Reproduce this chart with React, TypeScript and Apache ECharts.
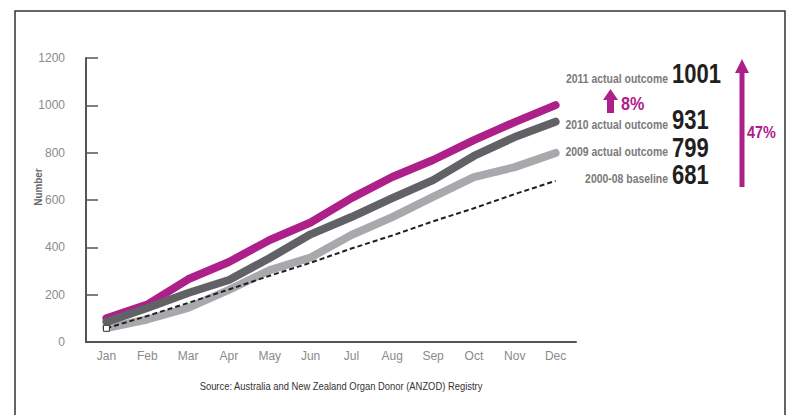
import React, { useEffect, useRef } from "react";
import * as echarts from "echarts";

const months = ["Jan", "Feb", "Mar", "Apr", "May", "Jun", "Jul", "Aug", "Sep", "Oct", "Nov", "Dec"];
const actual2011 = [100, 158, 265, 338, 431, 505, 608, 697, 769, 853, 929, 1001];
const actual2010 = [85, 144, 207, 262, 355, 455, 528, 608, 684, 786, 866, 931];
const actual2009 = [59, 95, 144, 220, 304, 357, 452, 528, 613, 697, 739, 799];
const baseline = [58, 110, 165, 222, 280, 335, 395, 450, 510, 565, 625, 681];
const yTicks = { min: 0, max: 1200, interval: 200 };

const endLabels = [
  { name: "2011 actual outcome", value: "1001", y: 79 },
  { name: "2010 actual outcome", value: "931", y: 125 },
  { name: "2009 actual outcome", value: "799", y: 152 },
  { name: "2000-08 baseline", value: "681", y: 179 },
];
const endValueY = [73, 119, 147, 174];

const FONT = "'Liberation Sans', Arial, sans-serif";
const MAGENTA = "#ae2089";
const DARK = "#616265";
const LIGHT = "#a8a9ac";

export default function App() {
  const ref = useRef<HTMLDivElement>(null);
  useEffect(() => {
    if (!ref.current) return;
    const chart = echarts.init(ref.current, null, { renderer: "svg" });
    const graphic: any[] = [
      {
        type: "polyline",
        shape: { points: [[15, 420], [15, 11], [785, 11], [785, 420]] },
        style: { stroke: "#333", lineWidth: 1.5, fill: "none" },
      },
      {
        type: "text",
        x: 341,
        y: 386,
        scaleX: 0.94,
        style: {
          text: "Source: Australia and New Zealand Organ Donor (ANZOD) Registry",
          fontFamily: FONT,
          fontSize: 10,
          fill: "#333",
          align: "center",
          verticalAlign: "middle",
        },
      },
      {
        type: "text",
        x: 38,
        y: 187,
        rotation: Math.PI / 2,
        scaleX: 0.9,
        style: {
          text: "Number",
          fontFamily: FONT,
          fontSize: 11,
          fontWeight: "bold",
          fill: "#666",
          align: "center",
          verticalAlign: "middle",
        },
      },
    ];
    endLabels.forEach((l, i) => {
      graphic.push({
        type: "text",
        x: 668,
        y: l.y,
        scaleX: 0.87,
        style: {
          text: l.name,
          fontFamily: FONT,
          fontSize: 12,
          fontWeight: "bold",
          fill: "#7a7a7a",
          align: "right",
          verticalAlign: "middle",
        },
      });
      graphic.push({
        type: "text",
        x: 672,
        y: endValueY[i],
        scaleX: 0.88,
        scaleY: 1.1,
        style: {
          text: l.value,
          fontFamily: FONT,
          fontSize: 25,
          fontWeight: "bold",
          fill: "#231f20",
          align: "left",
          verticalAlign: "middle",
        },
      });
    });
    // small arrow 8%
    graphic.push({
      type: "polygon",
      shape: {
        points: [[610.5, 89], [618, 100], [614, 100], [614, 113], [607, 113], [607, 100], [603, 100]],
      },
      style: { fill: MAGENTA },
    });
    graphic.push({
      type: "text",
      x: 621,
      y: 104,
      scaleX: 0.85,
      style: {
        text: "8%",
        fontFamily: FONT,
        fontSize: 19,
        fontWeight: "bold",
        fill: MAGENTA,
        align: "left",
        verticalAlign: "middle",
      },
    });
    // big arrow 47%
    graphic.push({
      type: "polygon",
      shape: {
        points: [[742, 59], [749, 73], [744.5, 73], [744.5, 187], [739.5, 187], [739.5, 73], [735, 73]],
      },
      style: { fill: MAGENTA },
    });
    graphic.push({
      type: "text",
      x: 747,
      y: 132,
      scaleX: 0.9,
      style: {
        text: "47%",
        fontFamily: FONT,
        fontSize: 16,
        fontWeight: "bold",
        fill: MAGENTA,
        align: "left",
        verticalAlign: "middle",
      },
    });

    const thick = (color: string) => ({
      color,
      width: 8,
      cap: "round",
      join: "round",
    });

    chart.setOption({
      animation: false,
      grid: { left: 86, right: 216, top: 58, bottom: 73 },
      xAxis: {
        type: "category",
        data: months,
        boundaryGap: true,
        axisLine: { lineStyle: { color: "#555", width: 2 } },
        axisTick: { inside: true, length: 6, lineStyle: { color: "#555", width: 1.5 } },
        axisLabel: { color: "#8a8a8a", fontSize: 12, fontFamily: FONT, margin: 8 },
      },
      yAxis: {
        type: "value",
        min: yTicks.min,
        max: yTicks.max,
        interval: yTicks.interval,
        splitLine: { show: false },
        axisLine: { show: true, lineStyle: { color: "#555", width: 2 } },
        axisTick: { show: true, inside: true, length: 12, lineStyle: { color: "#555", width: 1.5 } },
        axisLabel: {
          color: "#8a8a8a",
          fontSize: 12,
          fontFamily: FONT,
          margin: 21,
          formatter: (v: number) => String(v),
        },
      },
      series: [
        {
          name: "2009 actual outcome",
          type: "line",
          data: actual2009,
          showSymbol: false,
          lineStyle: thick(LIGHT),
        },
        {
          name: "2011 actual outcome",
          type: "line",
          data: actual2011,
          showSymbol: false,
          lineStyle: thick(MAGENTA),
        },
        {
          name: "2010 actual outcome",
          type: "line",
          data: actual2010,
          showSymbol: false,
          lineStyle: thick(DARK),
        },
        {
          name: "2000-08 baseline",
          type: "line",
          symbol: "none",
          showSymbol: true,
          data: baseline.map((v, i) =>
            i === 0
              ? { value: v, symbol: "rect", symbolSize: 6, itemStyle: { color: "#fff", borderColor: "#333", borderWidth: 1 } }
              : v
          ),
          lineStyle: { color: "#231f20", width: 2, type: [5, 3] },
        },
      ],
      graphic,
    });
    return () => chart.dispose();
  }, []);
  return <div ref={ref} style={{ position: "absolute", left: 0, top: 0, width: 792, height: 415 }} />;
}
